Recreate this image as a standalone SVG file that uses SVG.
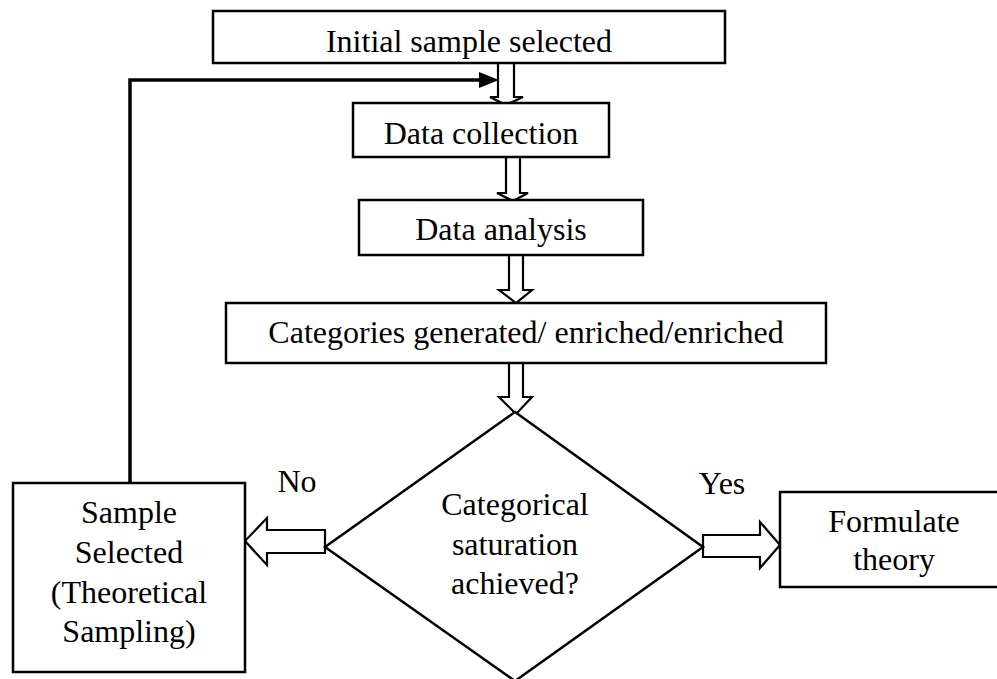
<svg xmlns="http://www.w3.org/2000/svg" width="997" height="679" viewBox="0 0 997 679">
  <style>
    .box { fill: #fff; stroke: #000; stroke-width: 2.5; }
    .hollow { fill: #fff; stroke: #000; stroke-width: 2.2; stroke-linejoin: miter; }
    .loop { fill: none; stroke: #000; stroke-width: 3.5; }
    .lbl { font-family: "Liberation Serif", "Times New Roman", serif; font-size: 32px; fill: #000; text-anchor: middle; }
  </style>
  <rect width="997" height="679" fill="#fff"/>

  <!-- flow connectors: hollow block arrows and the feedback loop -->
  <g id="connectors">
    <polygon class="hollow" points="498,63 514,63 514,97 523,97 506,105 490,97 498,97"/>
    <polygon class="hollow" points="506,157 520,157 520,193 528,193 513,201 497,193 506,193"/>
    <polygon class="hollow" points="509,255 523,255 523,290 532,290 516,303 499,290 509,290"/>
    <polygon class="hollow" points="509,363 523,363 523,397 532,397 516,414 499,397 509,397"/>
    <!-- No: towards theoretical sampling -->
    <polygon class="hollow" points="325,530 325,553 267,553 267,565 245,541 267,518 267,530"/>
    <!-- Yes: towards theory -->
    <polygon class="hollow" points="703,535 760,535 760,522 780,545 760,568 760,557 703,557"/>
    <!-- loop back to data collection -->
    <path class="loop" d="M130,483 V80 H482"/>
    <polygon points="479,72 499,80 479,88" fill="#000"/>
  </g>

  <g id="initial">
    <rect class="box" x="213" y="11" width="512" height="52"/>
    <text class="lbl" x="469" y="52">Initial sample selected</text>
  </g>

  <g id="collection">
    <rect class="box" x="353" y="103" width="256" height="54"/>
    <text class="lbl" x="481" y="144">Data collection</text>
  </g>

  <g id="analysis">
    <rect class="box" x="359" y="200" width="284" height="55"/>
    <text class="lbl" x="501" y="240">Data analysis</text>
  </g>

  <g id="categories">
    <rect class="box" x="226" y="303" width="600" height="60"/>
    <text class="lbl" x="526" y="343">Categories generated/ enriched/enriched</text>
  </g>

  <g id="saturation">
    <polygon class="box" points="515,412 703,547 515,681 325,547"/>
    <text class="lbl" x="515" y="515">Categorical</text>
    <text class="lbl" x="515" y="555">saturation</text>
    <text class="lbl" x="515" y="594">achieved?</text>
  </g>

  <g id="theoretical-sampling">
    <rect class="box" x="13" y="483" width="232" height="189"/>
    <text class="lbl" x="129" y="523">Sample</text>
    <text class="lbl" x="129" y="563">Selected</text>
    <text class="lbl" x="129" y="603">(Theoretical</text>
    <text class="lbl" x="129" y="642">Sampling)</text>
  </g>

  <g id="theory">
    <rect class="box" x="780" y="492" width="230" height="95"/>
    <text class="lbl" x="894" y="532">Formulate</text>
    <text class="lbl" x="894" y="570">theory</text>
  </g>

  <g id="branch-labels">
    <text class="lbl" x="297" y="492">No</text>
    <text class="lbl" x="722" y="494">Yes</text>
  </g>
</svg>
